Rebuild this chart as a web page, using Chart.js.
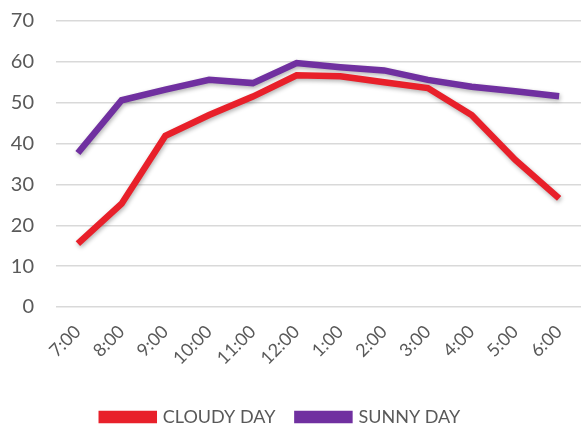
<!DOCTYPE html>
<html>
<head>
<meta charset="utf-8">
<script src="https://cdn.jsdelivr.net/npm/chart.js@4.4.1/dist/chart.umd.min.js"></script>
<style>
  html, body { margin: 0; padding: 0; background: #fff; }
  #wrap { width: 581px; height: 425px; }
</style>
</head>
<body>
<div id="wrap"><canvas id="chart" width="581" height="425"></canvas></div>
<script>
const hours = ["7:00", "8:00", "9:00", "10:00", "11:00", "12:00", "1:00", "2:00", "3:00", "4:00", "5:00", "6:00"];
const cloudyDay = [15.5, 25.3, 41.9, 47, 51.5, 56.7, 56.5, 55, 53.6, 47, 36, 26.6];
const sunnyDay = [37.7, 50.6, 53.2, 55.6, 54.8, 59.7, 58.7, 57.9, 55.6, 53.9, 52.8, 51.6];

const labelColor = "#595959";

// soft drop shadow under the lines, like the Excel original
const lineShadow = {
    id: "lineShadow",
    beforeDatasetDraw(chart) {
        const ctx = chart.ctx;
        ctx.save();
        ctx.shadowColor = "rgba(0,0,0,0.3)";
        ctx.shadowBlur = 4;
        ctx.shadowOffsetX = 1;
        ctx.shadowOffsetY = 2;
    },
    afterDatasetDraw(chart) {
        chart.ctx.restore();
    }
};

// legend sits lower and a little left of centre in the original
const legendShift = {
    id: "legendShift",
    afterLayout(chart) {
        chart.legend.right -= 28;
        chart.legend.top += 11;
        chart.legend.bottom += 11;
    }
};

new Chart(document.getElementById("chart").getContext("2d"), {
    type: "line",
    data: {
        labels: hours,
        datasets: [{
            label: "CLOUDY DAY",
            data: cloudyDay,
            borderColor: "#E8202A",
            backgroundColor: "#E8202A",
            borderWidth: 6.5,
            pointRadius: 0,
            tension: 0
        }, {
            label: "SUNNY DAY",
            data: sunnyDay,
            borderColor: "#7030A0",
            backgroundColor: "#7030A0",
            borderWidth: 6.5,
            pointRadius: 0,
            tension: 0
        }]
    },
    options: {
        responsive: false,
        animation: false,
        layout: { padding: { left: 9, right: 0, top: 21, bottom: 0 } },
        scales: {
            x: {
                offset: true,
                grid: { display: false },
                border: { display: false },
                ticks: {
                    color: labelColor,
                    font: { family: "Lato", size: 18 },
                    minRotation: 45,
                    maxRotation: 45,
                    padding: 6
                },
                afterFit(scale) {
                    // rotated labels should not push the plot area inwards
                    scale.paddingLeft = 0;
                    scale.paddingRight = 0;
                }
            },
            y: {
                min: 0,
                max: 70,
                grid: { color: "#d9d9d9", lineWidth: 1.5, drawTicks: false },
                border: { display: false },
                ticks: {
                    stepSize: 10,
                    color: labelColor,
                    font: { family: "Lato", size: 20 },
                    padding: 22
                },
                afterFit(scale) {
                    scale.paddingTop = 0;
                    scale.paddingBottom = 0;
                    scale.width = 47;
                }
            }
        },
        plugins: {
            legend: {
                position: "bottom",
                labels: {
                    color: labelColor,
                    font: { family: "Lato", size: 18 },
                    boxWidth: 52,
                    boxHeight: 6,
                    padding: 22
                }
            },
            tooltip: { enabled: false }
        }
    },
    plugins: [lineShadow, legendShift]
});
</script>
</body>
</html>
